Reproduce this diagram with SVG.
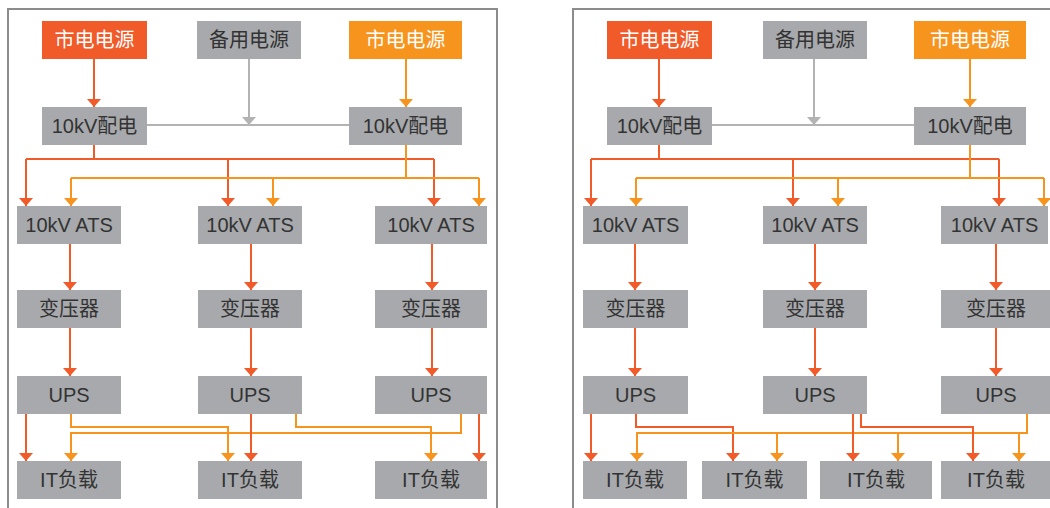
<svg xmlns="http://www.w3.org/2000/svg" width="1050" height="508" viewBox="0 0 1050 508">
<style>
.frame{fill:#fff;stroke:#8c8c8c;stroke-width:2}
.g{fill:#a7a9ac}
.r{fill:#f15a29}
.o{fill:#f7941e}
text{font-family:"Liberation Sans","Noto Sans CJK SC",sans-serif;font-size:20px;text-anchor:middle;dominant-baseline:central}
.dt{fill:#333}
.wt{fill:#fff}
.cr{fill:none;stroke:#f15a29;stroke-width:2}
.co{fill:none;stroke:#f7941e;stroke-width:2}
.cg{fill:none;stroke:#b3b3b3;stroke-width:2}
.ar{marker-end:url(#mr)}
.ao{marker-end:url(#mo)}
.ag{marker-end:url(#mg)}
</style>
<defs>
<marker id="mr" viewBox="0 0 8 14" refX="8" refY="7" markerWidth="8" markerHeight="14" markerUnits="userSpaceOnUse" orient="auto"><path d="M0,0 L8,7 L0,14 z" fill="#f15a29"/></marker>
<marker id="mo" viewBox="0 0 8 14" refX="8" refY="7" markerWidth="8" markerHeight="14" markerUnits="userSpaceOnUse" orient="auto"><path d="M0,0 L8,7 L0,14 z" fill="#f7941e"/></marker>
<marker id="mg" viewBox="0 0 8 14" refX="8" refY="7" markerWidth="8" markerHeight="14" markerUnits="userSpaceOnUse" orient="auto"><path d="M0,0 L8,7 L0,14 z" fill="#b3b3b3"/></marker>
</defs>
<rect width="1050" height="508" fill="#fff"/>
<rect class="frame" x="8" y="9" width="489" height="520"/>
<rect class="frame" x="573" y="9" width="500" height="520"/>

<g id="connectors">
<!-- left panel -->
<path class="cr ar" d="M94,59 V107"/>
<path class="cg ag" d="M249,59 V125"/>
<path class="co ao" d="M406,59 V107"/>
<path class="cg" d="M147,125 H349"/>
<path class="cr" d="M94,145 V159 M26,159 H434"/>
<path class="cr ar" d="M26,159 V206"/>
<path class="cr ar" d="M228,159 V206"/>
<path class="cr ar" d="M434,159 V206"/>
<path class="co" d="M406,145 V178 M71,178 H479"/>
<path class="co ao" d="M71,178 V206"/>
<path class="co ao" d="M273,178 V206"/>
<path class="co ao" d="M479,178 V206"/>
<path class="cr ar" d="M70,244 V290"/>
<path class="cr ar" d="M251,244 V290"/>
<path class="cr ar" d="M432,244 V290"/>
<path class="cr ar" d="M70,328 V376"/>
<path class="cr ar" d="M251,328 V376"/>
<path class="cr ar" d="M432,328 V376"/>
<path class="cr ar" d="M26,414 V461"/>
<path class="co ao" d="M71,414 V427 H228 V461"/>
<path class="co ao" d="M461,414 V433 H71 V461"/>
<path class="cr ar" d="M251,414 V461"/>
<path class="co ao" d="M296,414 V427 H431 V461"/>
<path class="cr ar" d="M479,414 V461"/>
<!-- right panel -->
<path class="cr ar" d="M659,59 V107"/>
<path class="cg ag" d="M814,59 V125"/>
<path class="co ao" d="M970,59 V107"/>
<path class="cg" d="M712,125 H914"/>
<path class="cr" d="M659,145 V159 M591,159 H999"/>
<path class="cr ar" d="M591,159 V206"/>
<path class="cr ar" d="M793,159 V206"/>
<path class="cr ar" d="M999,159 V206"/>
<path class="co" d="M970,145 V178 M636,178 H1044"/>
<path class="co ao" d="M636,178 V206"/>
<path class="co ao" d="M838,178 V206"/>
<path class="co ao" d="M1044,178 V206"/>
<path class="cr ar" d="M635,244 V290"/>
<path class="cr ar" d="M815,244 V290"/>
<path class="cr ar" d="M996,244 V290"/>
<path class="cr ar" d="M635,328 V376"/>
<path class="cr ar" d="M815,328 V376"/>
<path class="cr ar" d="M996,328 V376"/>
<path class="cr ar" d="M591,414 V461"/>
<path class="cr ar" d="M636,414 V427 H733 V461"/>
<path class="co ao" d="M1027,414 V433 H637 V461"/>
<path class="co ao" d="M777,433 V461"/>
<path class="co ao" d="M898,433 V461"/>
<path class="co ao" d="M1019,433 V461"/>
<path class="cr ar" d="M853,414 V461"/>
<path class="cr ar" d="M861,414 V427 H973 V461"/>
</g>

<!-- left panel nodes -->
<g id="L-src1"><rect class="r" x="42" y="21" width="105" height="38"/><text class="wt" x="94.5" y="40">市电电源</text></g>
<g id="L-bak"><rect class="g" x="197" y="21" width="104" height="38"/><text class="dt" x="249" y="40">备用电源</text></g>
<g id="L-src2"><rect class="o" x="349" y="21" width="113" height="38"/><text class="wt" x="405.5" y="40">市电电源</text></g>
<g id="L-dist1"><rect class="g" x="42" y="107" width="105" height="38"/><text class="dt" x="94.5" y="126">10kV配电</text></g>
<g id="L-dist2"><rect class="g" x="349" y="107" width="113" height="38"/><text class="dt" x="405.5" y="126">10kV配电</text></g>
<g id="L-ats1"><rect class="g" x="17" y="206" width="104" height="38"/><text class="dt" x="69" y="225">10kV ATS</text></g>
<g id="L-ats2"><rect class="g" x="198" y="206" width="104" height="38"/><text class="dt" x="250" y="225">10kV ATS</text></g>
<g id="L-ats3"><rect class="g" x="375" y="206" width="112" height="38"/><text class="dt" x="431" y="225">10kV ATS</text></g>
<g id="L-tr1"><rect class="g" x="17" y="290" width="104" height="38"/><text class="dt" x="69" y="309">变压器</text></g>
<g id="L-tr2"><rect class="g" x="198" y="290" width="104" height="38"/><text class="dt" x="250" y="309">变压器</text></g>
<g id="L-tr3"><rect class="g" x="375" y="290" width="112" height="38"/><text class="dt" x="431" y="309">变压器</text></g>
<g id="L-ups1"><rect class="g" x="17" y="376" width="104" height="38"/><text class="dt" x="69" y="395">UPS</text></g>
<g id="L-ups2"><rect class="g" x="198" y="376" width="104" height="38"/><text class="dt" x="250" y="395">UPS</text></g>
<g id="L-ups3"><rect class="g" x="375" y="376" width="112" height="38"/><text class="dt" x="431" y="395">UPS</text></g>
<g id="L-it1"><rect class="g" x="17" y="461" width="104" height="38"/><text class="dt" x="69" y="480">IT负载</text></g>
<g id="L-it2"><rect class="g" x="198" y="461" width="104" height="38"/><text class="dt" x="250" y="480">IT负载</text></g>
<g id="L-it3"><rect class="g" x="375" y="461" width="112" height="38"/><text class="dt" x="431" y="480">IT负载</text></g>

<!-- right panel nodes -->
<g id="R-src1"><rect class="r" x="607" y="21" width="105" height="38"/><text class="wt" x="659.5" y="40">市电电源</text></g>
<g id="R-bak"><rect class="g" x="763" y="21" width="104" height="38"/><text class="dt" x="815" y="40">备用电源</text></g>
<g id="R-src2"><rect class="o" x="914" y="21" width="112" height="38"/><text class="wt" x="970" y="40">市电电源</text></g>
<g id="R-dist1"><rect class="g" x="607" y="107" width="105" height="38"/><text class="dt" x="659.5" y="126">10kV配电</text></g>
<g id="R-dist2"><rect class="g" x="914" y="107" width="112" height="38"/><text class="dt" x="970" y="126">10kV配电</text></g>
<g id="R-ats1"><rect class="g" x="583" y="206" width="105" height="38"/><text class="dt" x="635.5" y="225">10kV ATS</text></g>
<g id="R-ats2"><rect class="g" x="763" y="206" width="104" height="38"/><text class="dt" x="815" y="225">10kV ATS</text></g>
<g id="R-ats3"><rect class="g" x="941" y="206" width="107" height="38"/><text class="dt" x="994.5" y="225">10kV ATS</text></g>
<g id="R-tr1"><rect class="g" x="583" y="290" width="105" height="38"/><text class="dt" x="635.5" y="309">变压器</text></g>
<g id="R-tr2"><rect class="g" x="763" y="290" width="104" height="38"/><text class="dt" x="815" y="309">变压器</text></g>
<g id="R-tr3"><rect class="g" x="941" y="290" width="110" height="38"/><text class="dt" x="996" y="309">变压器</text></g>
<g id="R-ups1"><rect class="g" x="583" y="376" width="105" height="38"/><text class="dt" x="635.5" y="395">UPS</text></g>
<g id="R-ups2"><rect class="g" x="763" y="376" width="104" height="38"/><text class="dt" x="815" y="395">UPS</text></g>
<g id="R-ups3"><rect class="g" x="941" y="376" width="110" height="38"/><text class="dt" x="996" y="395">UPS</text></g>
<g id="R-it1"><rect class="g" x="583" y="461" width="104" height="38"/><text class="dt" x="635" y="480">IT负载</text></g>
<g id="R-it2"><rect class="g" x="702" y="461" width="105" height="38"/><text class="dt" x="754.5" y="480">IT负载</text></g>
<g id="R-it3"><rect class="g" x="820" y="461" width="112" height="38"/><text class="dt" x="876" y="480">IT负载</text></g>
<g id="R-it4"><rect class="g" x="941" y="461" width="110" height="38"/><text class="dt" x="996" y="480">IT负载</text></g>
</svg>
